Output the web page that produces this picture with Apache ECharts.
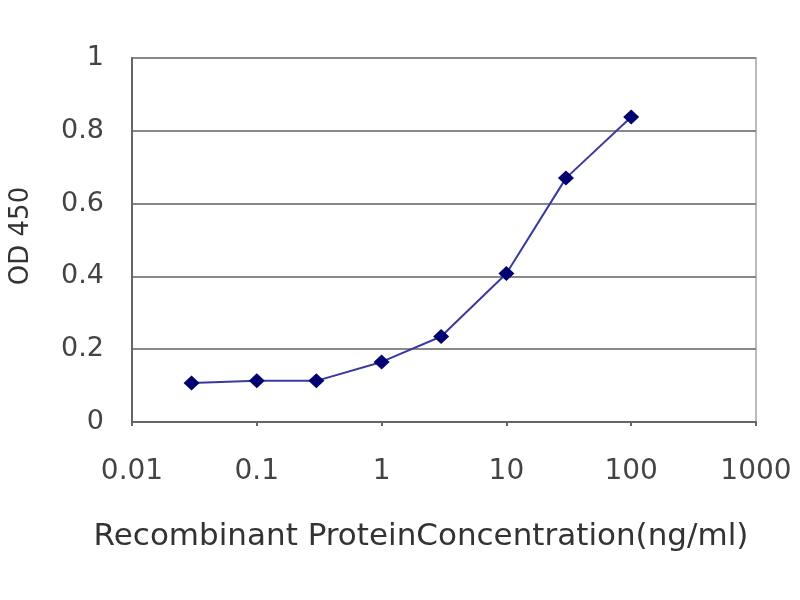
<!DOCTYPE html>
<html>
<head>
<meta charset="utf-8">
<script src="https://cdn.jsdelivr.net/npm/echarts@6/dist/echarts.min.js"></script>
<style>html,body{margin:0;padding:0;background:#fff}#c{width:800px;height:600px}</style>
</head>
<body>
<div id="c"></div>
<script>
const concentrations = [0.03, 0.1, 0.3, 1, 3, 10, 30, 100];
const od450 = [0.107, 0.113, 0.113, 0.165, 0.235, 0.408, 0.670, 0.838];
const xTickLabels = ['0.01', '0.1', '1', '10', '100', '1000'];
const yTickLabels = ['0', '0.2', '0.4', '0.6', '0.8', '1'];
const xTitle = 'Recombinant ProteinConcentration(ng/ml)';
const yTitle = 'OD 450';

const font = 'DejaVu Sans';
const chart = echarts.init(document.getElementById('c'));
chart.setOption({
  animation: false,
  backgroundColor: '#fff',
  grid: {
    left: 132, right: 44, top: 58, bottom: 178,
    outerBoundsMode: 'none', containLabel: false,
    show: true, borderColor: '#bbbbbb', borderWidth: 2, backgroundColor: '#fff'
  },
  xAxis: {
    type: 'log', logBase: 10, min: 0.01, max: 1000,
    name: xTitle, nameLocation: 'middle', nameGap: 99,
    nameTextStyle: { fontFamily: font, fontSize: 31, color: '#333', padding: [0, 46, 0, 0] },
    axisLine: { show: true, lineStyle: { color: '#666', width: 2 } },
    axisTick: { show: true, length: 4, lineStyle: { color: '#666', width: 2 } },
    splitLine: { show: false },
    axisLabel: {
      margin: 36, fontFamily: font, fontSize: 28, color: '#444',
      formatter: function (v) {
        const i = Math.round(Math.log10(v)) + 2;
        return xTickLabels[i] !== undefined ? xTickLabels[i] : '';
      }
    }
  },
  yAxis: {
    type: 'value', min: 0, max: 1, interval: 0.2,
    name: yTitle, nameLocation: 'middle', nameGap: 98, nameRotate: 90,
    nameTextStyle: { fontFamily: font, fontSize: 26, color: '#333', padding: [0, 0, 0, 8] },
    axisLine: { show: true, lineStyle: { color: '#666', width: 2 } },
    axisTick: { show: false },
    splitLine: { show: true, lineStyle: { color: '#888', width: 2 } },
    axisLabel: {
      margin: 28, fontFamily: font, fontSize: 27, color: '#444',
      formatter: function (v) {
        const i = Math.round(v / 0.2);
        return yTickLabels[i];
      }
    }
  },
  series: [{
    type: 'line',
    data: concentrations.map((c, i) => [c, od450[i]]),
    symbol: 'diamond', symbolSize: [16, 15],
    itemStyle: { color: '#000070' },
    lineStyle: { color: '#3a3aa0', width: 2 },
    z: 5
  }]
});
</script>
</body>
</html>
